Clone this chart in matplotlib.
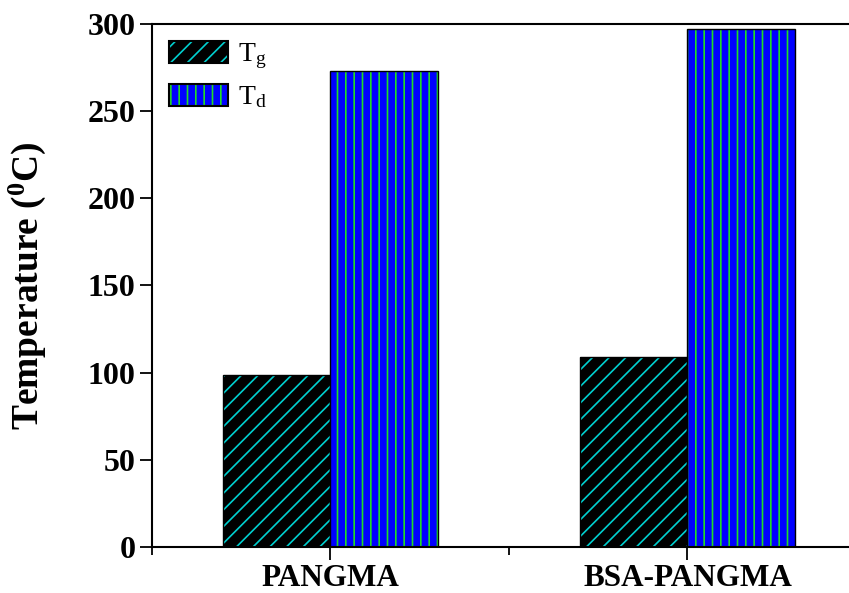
import matplotlib
matplotlib.use('Agg')
import matplotlib.pyplot as plt
import numpy as np
from matplotlib.patches import Patch

samples = ['PANGMA', 'BSA-PANGMA']
tg = [98.5, 109]     # glass transition
td = [273, 297]      # decomposition

plt.rcParams['font.family'] = 'Liberation Serif'
plt.rcParams['mathtext.fontset'] = 'custom'
plt.rcParams['mathtext.rm'] = 'Liberation Serif'
plt.rcParams['mathtext.it'] = 'Liberation Serif:italic'
plt.rcParams['mathtext.bf'] = 'Liberation Serif:bold'
plt.rcParams['hatch.linewidth'] = 1.2

fig = plt.figure(figsize=(8.49, 5.93), dpi=100)
ax = fig.add_axes([0.179, 0.0776, 0.841, 0.882])

x = np.arange(1, len(samples) + 1)
w = 0.3

# hatched fill first, then black outline on top
ax.bar(x - w / 2, tg, w, color='black', edgecolor='#00d0d0', hatch='//', linewidth=0)
ax.bar(x - w / 2, tg, w, fill=False, edgecolor='black', linewidth=1)
ax.bar(x + w / 2, td, w, color='#0000ff', edgecolor='#22dd22', hatch='||', linewidth=0)
ax.bar(x + w / 2, td, w, fill=False, edgecolor='black', linewidth=1)

ax.set_xlim(0.5, 2.5)
ax.set_ylim(0, 300)
ax.set_xticks(x)
ax.set_xticklabels(samples, fontsize=22.5, fontweight='bold')
ax.set_xticks([0.5, 1.5], minor=True)
ax.set_yticks(np.arange(0, 301, 50))
ax.tick_params(axis='y', labelsize=23, direction='out', length=9, width=1.3, pad=3)
ax.tick_params(axis='x', which='major', direction='out', length=9, width=1.3, pad=3)
ax.tick_params(axis='x', which='minor', direction='out', length=6, width=1.3)
for lab in ax.get_yticklabels():
    lab.set_fontweight('bold')
ax.set_ylabel('Temperature ($^{\\mathbf{0}}$C)', fontsize=27, fontweight='bold', labelpad=28)

for s in ax.spines.values():
    s.set_linewidth(1.5)

h1 = (Patch(facecolor='black', edgecolor='#00d0d0', hatch='//', linewidth=0),
      Patch(fill=False, edgecolor='black', linewidth=1.5))
h2 = (Patch(facecolor='#0000ff', edgecolor='#22dd22', hatch='||', linewidth=0),
      Patch(fill=False, edgecolor='black', linewidth=1.5))
ax.legend([h1, h2], ['T$_\\mathrm{g}$', 'T$_\\mathrm{d}$'], loc='upper left',
          frameon=False, prop={'size': 20},
          handlelength=2.15, handleheight=0.85, labelspacing=0.45,
          handletextpad=0.35, borderaxespad=0.2, borderpad=0.4)

plt.savefig('out.png', dpi=100)
